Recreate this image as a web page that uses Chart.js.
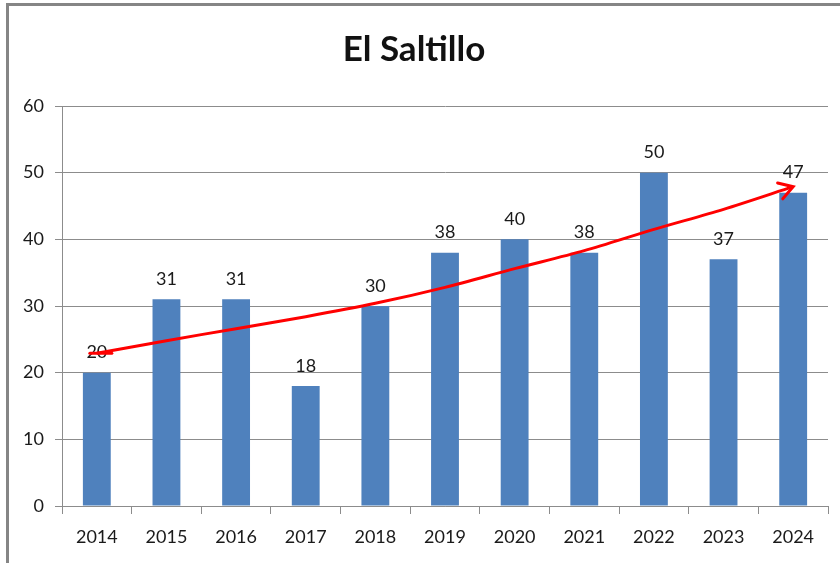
<!DOCTYPE html>
<html>
<head>
<meta charset="utf-8">
<script src="https://cdn.jsdelivr.net/npm/chart.js@4/dist/chart.umd.min.js"></script>
<style>
  html, body { margin: 0; padding: 0; background: #fff; overflow: hidden; }
  #wrap { position: relative; width: 840px; height: 563px; }
  #frame { position: absolute; left: 6px; top: 3px; width: 900px; height: 700px;
           border-left: 3px solid #858585; border-top: 3px solid #858585; pointer-events: none; }
  canvas { position: absolute; left: 0; top: 0; }
</style>
</head>
<body>
<div id="wrap">
  <canvas id="saltilloChart" width="840" height="563"></canvas>
  <div id="frame"></div>
</div>
<script>
// El Saltillo
const years = ['2014', '2015', '2016', '2017', '2018', '2019', '2020', '2021', '2022', '2023', '2024'];
const counts = [20, 31, 31, 18, 30, 38, 40, 38, 50, 37, 47];
// trend line
const trend = [22.9, 24.8, 26.6, 28.4, 30.4, 32.8, 35.6, 38.3, 41.5, 44.5, 47.9];
const yTicks = [0, 10, 20, 30, 40, 50, 60];

const fontFamily = "Lato, 'Open Sans', sans-serif";
const gridGray = '#8c8c8c';

// numbers above the bars
const barLabels = {
    id: 'barLabels',
    afterDatasetDraw(chart, args) {
        if (args.meta.type !== 'bar') return;
        const ctx = chart.ctx;
        ctx.save();
        ctx.font = '18px ' + fontFamily;
        ctx.fillStyle = '#1a1a1a';
        ctx.textAlign = 'center';
        ctx.textBaseline = 'bottom';
        args.meta.data.forEach((bar, i) => {
            ctx.fillText(String(counts[i]), bar.x, bar.y - 11);
        });
        ctx.restore();
    }
};

// arrow head at the end of the trend, small hook at its start
const arrowHead = {
    id: 'arrowHead',
    afterDatasetsDraw(chart) {
        const meta = chart.getDatasetMeta(1);
        const pts = meta.data;
        const a = pts[pts.length - 2], b = pts[pts.length - 1];
        const ang = Math.atan2(b.y - a.y, b.x - a.x);
        const len = 16;
        const ctx = chart.ctx;
        ctx.save();
        ctx.strokeStyle = '#ff0000';
        ctx.lineWidth = 3;
        ctx.lineCap = 'round';
        ctx.beginPath();
        ctx.moveTo(b.x - len * Math.cos(ang - 0.55), b.y - len * Math.sin(ang - 0.55));
        ctx.lineTo(b.x, b.y);
        ctx.lineTo(b.x - len * Math.cos(ang + 0.55), b.y - len * Math.sin(ang + 0.55));
        ctx.stroke();
        const s = pts[0];
        ctx.beginPath();
        ctx.moveTo(s.x - 7, s.y);
        ctx.lineTo(s.x + 15, s.y);
        ctx.stroke();
        ctx.restore();
    }
};

const ctx1 = document.getElementById('saltilloChart');
if (ctx1) {
    new Chart(ctx1, {
        type: 'bar',
        data: {
            labels: years,
            datasets: [{
                label: 'El Saltillo',
                data: counts,
                backgroundColor: '#4f81bd',
                barPercentage: 0.4,
                categoryPercentage: 1,
                order: 1
            }, {
                type: 'line',
                label: 'Tendencia',
                data: trend,
                borderColor: '#ff0000',
                borderWidth: 3,
                pointRadius: 0,
                tension: 0.3,
                fill: false,
                order: 0
            }]
        },
        options: {
            responsive: false,
            animation: false,
            layout: {
                padding: { left: 0, right: 12, top: 0, bottom: 0 }
            },
            plugins: {
                legend: { display: false },
                tooltip: { enabled: false },
                title: {
                    display: true,
                    text: 'El Saltillo',
                    color: '#111',
                    font: { size: 35, weight: 'bold', family: fontFamily },
                    padding: { top: 29, bottom: 35 }
                }
            },
            scales: {
                y: {
                    min: 0,
                    max: 60,
                    afterBuildTicks(scale) {
                        scale.ticks = yTicks.map(v => ({ value: v }));
                    },
                    afterFit(scale) { scale.width = 62; },
                    ticks: {
                        color: '#1a1a1a',
                        padding: 11,
                        font: { size: 18, family: fontFamily }
                    },
                    grid: {
                        color: gridGray,
                        tickLength: 7,
                        tickColor: gridGray
                    },
                    border: { color: gridGray }
                },
                x: {
                    afterFit(scale) { scale.height = 57; },
                    ticks: {
                        color: '#1a1a1a',
                        padding: 12,
                        font: { size: 18, family: fontFamily }
                    },
                    grid: {
                        drawOnChartArea: false,
                        tickLength: 8,
                        color: gridGray
                    },
                    border: { color: gridGray }
                }
            }
        },
        plugins: [barLabels, arrowHead]
    });
}
</script>
</body>
</html>
